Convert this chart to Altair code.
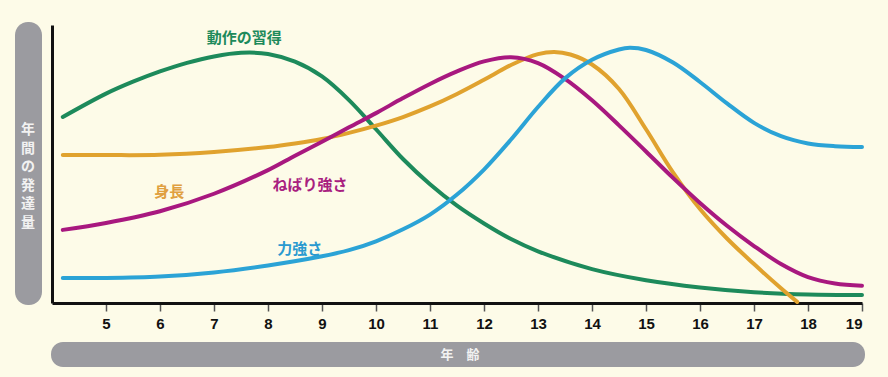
import altair as alt
import pandas as pd

# ---- data (age in years, relative annual development 0-100) ----
green_x = [4.2, 5, 5.5, 6, 6.5, 7, 7.5, 8, 8.5, 9, 9.5, 10, 10.5, 11, 11.5, 12, 12.5, 13, 14, 15, 16, 17, 18, 19]
green_y = [66.9, 75.3, 79.6, 83.3, 86.4, 88.7, 90.0, 89.6, 86.8, 81.5, 73.0, 62.5, 51.8, 42.7, 35.0, 28.6, 23.0, 18.6, 12.2, 8.2, 5.6, 3.9, 3.1, 2.9]

orange_x = [4.2, 5, 6, 7, 8, 8.5, 9, 9.5, 10, 10.5, 11, 11.5, 12, 12.5, 13, 13.3, 13.6, 14, 14.5, 15, 15.5, 16, 16.5, 17, 17.5, 17.8]
orange_y = [53.2, 53.2, 53.3, 54.3, 56.1, 57.4, 59.0, 61.2, 63.8, 66.9, 70.7, 75.2, 80.3, 85.6, 89.5, 90.3, 89.4, 85.8, 77.0, 62.5, 47.0, 33.8, 23.2, 14.0, 5.3, 0.4]

magenta_x = [4.2, 5, 6, 7, 8, 8.5, 9, 9.5, 10, 10.5, 11, 11.5, 12, 12.5, 13, 13.5, 14, 14.5, 15, 15.5, 16, 16.5, 17, 17.5, 18, 18.5, 19]
magenta_y = [26.3, 28.8, 33.0, 39.3, 47.8, 53.0, 58.0, 63.2, 68.3, 73.7, 78.8, 83.3, 86.9, 88.4, 86.3, 80.6, 72.9, 63.9, 54.5, 45.0, 36.0, 27.8, 20.5, 14.0, 9.3, 7.0, 6.2]

blue_x = [4.2, 5, 6, 7, 8, 9, 9.5, 10, 10.5, 11, 11.5, 12, 12.5, 13, 13.5, 14, 14.5, 14.7, 15, 15.5, 16, 16.5, 17, 17.5, 18, 18.5, 19]
blue_y = [9.0, 9.0, 9.5, 11.0, 13.5, 16.8, 19.0, 22.2, 26.5, 31.8, 39.0, 48.0, 58.8, 70.5, 80.8, 87.5, 91.2, 91.8, 91.0, 86.5, 79.5, 71.8, 64.8, 60.0, 57.4, 56.4, 56.1]

series_names = ["動作の習得", "身長", "ねばり強さ", "力強さ"]
series_colors = ["#1d8a5b", "#e0a22e", "#a8187f", "#2ba3d6"]

label_text = ["動作の習得", "身長", "ねばり強さ", "力強さ"]
label_x = [7.56, 6.17, 8.78, 8.59]
label_y = [95.3, 39.9, 42.4, 19.4]
label_colors = ["#1d8a5b", "#e0a040", "#a8207f", "#2a9ad0"]

x_ticks = list(range(5, 20))
y_title_chars = ["年", "間", "の", "発", "達", "量"]
x_title = "年　齢"

rows = []
for name, xs, ys in zip(series_names, [green_x, orange_x, magenta_x, blue_x], [green_y, orange_y, magenta_y, blue_y]):
    for a, v in zip(xs, ys):
        rows.append({"series": name, "age": a, "value": v})
df = pd.DataFrame(rows)

lab = pd.DataFrame({"text": label_text, "age": label_x, "value": label_y, "series": label_text})

W, H = 810, 278
xscale = alt.Scale(domain=[4, 19], nice=False, zero=False)
yscale = alt.Scale(domain=[0, 100], nice=False, zero=True)
cscale = alt.Scale(domain=series_names, range=series_colors)

one = pd.DataFrame({"k": [0]})
GREY = "#9b9ba0"

left_bar = alt.Chart(one).mark_rect(color=GREY, cornerRadius=13).encode(
    x=alt.value(-37), x2=alt.value(-10), y=alt.value(-3), y2=alt.value(280)
)
bottom_bar = alt.Chart(one).mark_rect(color=GREY, cornerRadius=12).encode(
    x=alt.value(-1), x2=alt.value(813), y=alt.value(317), y2=alt.value(342)
)
left_text = alt.Chart(one).mark_text(
    text=y_title_chars, lineHeight=18.5, fontSize=14, fontWeight="bold",
    color="#f2f2f2", font="Noto Sans CJK JP", baseline="middle", align="center"
).encode(x=alt.value(-24), y=alt.value(105))
bottom_text = alt.Chart(one).mark_text(
    text=x_title, fontSize=13, fontWeight="bold", color="#f2f2f2",
    font="Noto Sans CJK JP", baseline="middle", align="center"
).encode(x=alt.value(408), y=alt.value(330))

lines = alt.Chart(df).mark_line(
    interpolate="catmull-rom", strokeWidth=4, strokeCap="round"
).encode(
    x=alt.X("age:Q", scale=xscale, axis=alt.Axis(
        values=x_ticks, format="d", title=None, grid=False,
        domainColor="#111111", domainWidth=3, tickColor="#555555", tickWidth=1.5,
        tickSize=8, labelFontSize=15, labelFontWeight="bold", labelColor="#111111",
        labelFont="Liberation Sans", labelPadding=5)),
    y=alt.Y("value:Q", scale=yscale, axis=alt.Axis(
        title=None, labels=False, ticks=False, grid=False,
        domainColor="#111111", domainWidth=3)),
    color=alt.Color("series:N", scale=cscale, legend=None),
    detail="series:N",
)

labels = alt.Chart(lab).mark_text(
    fontSize=15, fontWeight="bold", font="Noto Sans CJK JP", baseline="middle", align="center"
).encode(
    x=alt.X("age:Q", scale=xscale),
    y=alt.Y("value:Q", scale=yscale),
    text="text:N",
    color=alt.Color("series:N", scale=alt.Scale(domain=label_text, range=label_colors), legend=None),
)

chart = alt.layer(left_bar, bottom_bar, left_text, bottom_text, lines, labels).resolve_scale(
    color="independent"
).properties(
    width=W, height=H,
    autosize=alt.AutoSizeParams(type="none"),
    padding={"left": 52, "top": 25, "right": 26, "bottom": 74},
    background="#fdfbe8",
).configure_view(stroke=None)

chart.save("out.html", embed_options={"renderer": "svg", "actions": False})
